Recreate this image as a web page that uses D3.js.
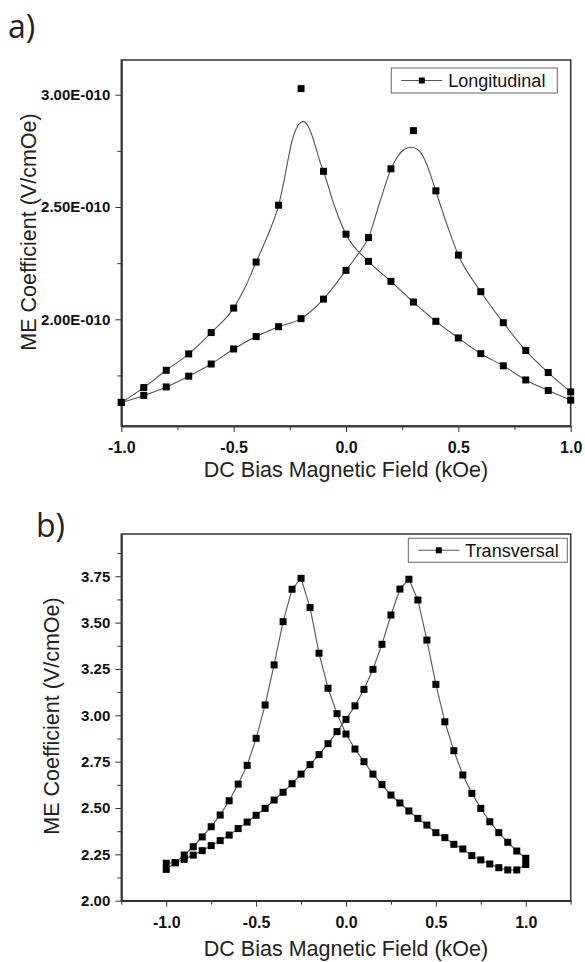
<!DOCTYPE html>
<html>
<head>
<meta charset="utf-8">
<script src="https://cdn.jsdelivr.net/npm/d3@7"></script>
<style>
  body { margin: 0; background: #fff; }
  svg { display: block; font-family: "Liberation Sans", Arial, sans-serif; }
  .tick text { font-weight: bold; fill: #111; }
  .axis path, .axis line { stroke: #333; }
</style>
</head>
<body>
<div id="chart"></div>
<script>
// a) Longitudinal, ME coefficient in units of 1E-010 V/cmOe
const fieldLong = [-1.0, -0.9, -0.8, -0.7, -0.6, -0.5, -0.4, -0.3, -0.2, -0.1, 0.0, 0.1, 0.2, 0.3, 0.4, 0.5, 0.6, 0.7, 0.8, 0.9, 1.0]
const longPeakLeft = [1.630, 1.696, 1.773, 1.846, 1.941, 2.050, 2.255, 2.508, 3.027, 2.659, 2.379, 2.258, 2.169, 2.077, 1.991, 1.917, 1.847, 1.793, 1.730, 1.683, 1.640]
const longPeakRight = [1.630, 1.661, 1.699, 1.747, 1.801, 1.868, 1.923, 1.967, 2.003, 2.090, 2.218, 2.364, 2.670, 2.840, 2.572, 2.286, 2.123, 1.985, 1.861, 1.763, 1.677]

// fitted curves
const fitLeftX = [-1.0, -0.9, -0.8, -0.7, -0.6, -0.5, -0.45, -0.4, -0.35, -0.3, -0.28, -0.26, -0.24, -0.22, -0.2, -0.19, -0.17, -0.15, -0.13, -0.115, -0.1, -0.05, 0.0, 0.1, 0.2, 0.3, 0.4, 0.5, 0.6, 0.7, 0.8, 0.9, 1.0]
const fitLeftY = [1.630, 1.696, 1.773, 1.846, 1.941, 2.050, 2.140, 2.255, 2.370, 2.508, 2.595, 2.700, 2.795, 2.852, 2.877, 2.880, 2.862, 2.815, 2.750, 2.700, 2.659, 2.500, 2.379, 2.258, 2.169, 2.077, 1.991, 1.917, 1.847, 1.793, 1.730, 1.683, 1.640]
const fitRightX = [-1.0, -0.9, -0.8, -0.7, -0.6, -0.5, -0.4, -0.3, -0.2, -0.1, 0.0, 0.05, 0.1, 0.15, 0.2, 0.23, 0.26, 0.29, 0.32, 0.35, 0.38, 0.4, 0.45, 0.5, 0.6, 0.7, 0.8, 0.9, 1.0]
const fitRightY = [1.630, 1.661, 1.699, 1.747, 1.801, 1.868, 1.923, 1.967, 2.003, 2.090, 2.218, 2.285, 2.364, 2.520, 2.668, 2.725, 2.757, 2.766, 2.755, 2.712, 2.632, 2.570, 2.420, 2.286, 2.123, 1.985, 1.861, 1.763, 1.677]

// b) Transversal, ME coefficient in V/cmOe
const fieldTrans = [-1.0, -0.95, -0.9, -0.85, -0.8, -0.75, -0.7, -0.65, -0.6, -0.55, -0.5, -0.45, -0.4, -0.35, -0.3, -0.25, -0.2, -0.15, -0.1, -0.05, 0.0,
                    0.05, 0.1, 0.15, 0.2, 0.25, 0.3, 0.35, 0.4, 0.45, 0.5, 0.55, 0.6, 0.65, 0.7, 0.75, 0.8, 0.85, 0.9, 0.95, 1.0]
const transPeakLeft = [2.202, 2.205, 2.246, 2.291, 2.344, 2.399, 2.462, 2.539, 2.629, 2.730, 2.876, 3.056, 3.272, 3.505, 3.680, 3.739, 3.581, 3.335, 3.146, 3.009, 2.899,
                       2.818, 2.750, 2.683, 2.626, 2.570, 2.527, 2.484, 2.444, 2.408, 2.367, 2.340, 2.304, 2.279, 2.243, 2.220, 2.198, 2.178, 2.166, 2.166, 2.195]
const transPeakRight = [2.169, 2.205, 2.223, 2.246, 2.270, 2.297, 2.324, 2.354, 2.389, 2.424, 2.461, 2.498, 2.543, 2.585, 2.631, 2.683, 2.734, 2.788, 2.847, 2.912, 2.978,
                        3.051, 3.140, 3.248, 3.383, 3.541, 3.681, 3.734, 3.622, 3.406, 3.167, 2.965, 2.809, 2.678, 2.579, 2.498, 2.426, 2.367, 2.315, 2.268, 2.229]

const xTicksLabeled = [-1.0, -0.5, 0.0, 0.5, 1.0]
const xTicksMinorA = [-0.75, -0.25, 0.25, 0.75]
const xTicksMinorB = [-1.25, -0.75, -0.25, 0.25, 0.75, 1.25]
const yTicksA = [2.0, 2.5, 3.0]
const yTicksMinorA = [1.75, 2.25, 2.75]
const yTicksB = [2.00, 2.25, 2.50, 2.75, 3.00, 3.25, 3.50, 3.75]
const yTicksMinorB = [2.125, 2.375, 2.625, 2.875, 3.125, 3.375, 3.625, 3.875]

const svg = d3.select('#chart').append('svg')
    .attr('width', 585)
    .attr('height', 962)

const lineColor = '#555'
const markerSize = 7

const drawPanel = ({top, height, xDomain, yDomain, yTicks, yMinor, xMinor, yFormat, letter, letterPos, titleX, titleY, xTitleY, legend, legendBox, series, fits}) => {
    const left = 121.3
    const width = 449.4
    const g = svg.append('g').attr('transform', `translate(${left}, ${top})`)

    const x = d3.scaleLinear().domain(xDomain).range([0, width])
    const y = d3.scaleLinear().domain(yDomain).range([height, 0])

    // minor ticks
    g.append('g').attr('class', 'axis')
        .attr('transform', `translate(0, ${height})`)
        .call(d3.axisBottom(x).tickValues(xMinor).tickFormat('').tickSizeInner(4).tickSizeOuter(0))
    g.append('g').attr('class', 'axis')
        .call(d3.axisLeft(y).tickValues(yMinor).tickFormat('').tickSizeInner(4).tickSizeOuter(0))

    const xAxis = g.append('g').attr('class', 'axis')
        .attr('transform', `translate(0, ${height})`)
        .call(d3.axisBottom(x).tickValues(xTicksLabeled).tickFormat(d => d.toFixed(1))
            .tickSizeInner(6).tickSizeOuter(0).tickPadding(10))
    xAxis.selectAll('text').style('font-size', '16px')

    const yAxis = g.append('g').attr('class', 'axis')
        .call(d3.axisLeft(y).tickValues(yTicks).tickFormat(yFormat)
            .tickSizeInner(6).tickSizeOuter(0).tickPadding(5))
    yAxis.selectAll('text').style('font-size', '15px')
    g.selectAll('.axis path').attr('stroke-width', 1.5)

    // frame
    g.append('rect')
        .attr('width', width).attr('height', height)
        .attr('fill', 'none').attr('stroke', '#333').attr('stroke-width', 1.5)

    const line = d3.line().x(d => x(d[0])).y(d => y(d[1]))

    fits.forEach(f => {
        g.append('path')
            .datum(f.xs.map((v, i) => [v, f.ys[i]]))
            .attr('fill', 'none')
            .attr('stroke', lineColor)
            .attr('stroke-width', 1.1)
            .attr('d', line.curve(f.curve))
    })

    series.forEach(s => {
        g.selectAll(null).data(s.xs.map((v, i) => [v, s.ys[i]]))
            .enter()
                .append('rect')
                    .attr('x', d => x(d[0]) - markerSize / 2)
                    .attr('y', d => y(d[1]) - markerSize / 2)
                    .attr('width', markerSize)
                    .attr('height', markerSize)
                    .attr('fill', '#000')
    })

    // legend
    const lg = g.append('g').attr('transform', `translate(${legendBox.x}, ${legendBox.y})`)
    lg.append('rect')
        .attr('width', legendBox.w).attr('height', legendBox.h)
        .attr('fill', '#fff').attr('stroke', '#666').attr('stroke-width', 1)
    lg.append('line')
        .attr('x1', 10).attr('x2', 51)
        .attr('y1', legendBox.h / 2).attr('y2', legendBox.h / 2)
        .attr('stroke', lineColor).attr('stroke-width', 1.1)
    lg.append('rect')
        .attr('x', 30.5 - 3).attr('y', legendBox.h / 2 - 3)
        .attr('width', 6).attr('height', 6).attr('fill', '#000')
    lg.append('text')
        .attr('x', 57).attr('y', legendBox.h / 2 + 6.5)
        .style('font-size', '18px')
        .attr('fill', '#111')
        .text(legend)

    // titles
    svg.append('text')
        .attr('transform', `translate(${titleX}, ${titleY}) rotate(-90)`)
        .attr('text-anchor', 'middle')
        .style('font-size', '21.5px')
        .attr('fill', '#222')
        .text('ME Coefficient (V/cmOe)')

    svg.append('text')
        .attr('x', left + width / 2)
        .attr('y', xTitleY)
        .attr('text-anchor', 'middle')
        .style('font-size', '21.5px')
        .attr('fill', '#222')
        .text('DC Bias Magnetic Field (kOe)')

    svg.append('text')
        .attr('x', letterPos[0]).attr('y', letterPos[1])
        .style('font-family', '"Open Sans", "Noto Sans", sans-serif')
        .style('font-size', '32px')
        .attr('fill', '#222')
        .text(letter)
}

drawPanel({
    top: 60,
    height: 366,
    xDomain: [-1, 1],
    yDomain: [1.525, 3.1545],
    yTicks: yTicksA,
    yMinor: yTicksMinorA,
    xMinor: xTicksMinorA,
    yFormat: d => d.toFixed(2) + 'E-010',
    letter: 'a)',
    letterPos: [8, 38],
    titleX: 36,
    titleY: 232,
    xTitleY: 477,
    legend: 'Longitudinal',
    legendBox: {x: 270, y: 8, w: 166, h: 25},
    series: [
        {xs: fieldLong, ys: longPeakLeft},
        {xs: fieldLong, ys: longPeakRight}
    ],
    fits: [
        {xs: fitLeftX, ys: fitLeftY, curve: d3.curveMonotoneX},
        {xs: fitRightX, ys: fitRightY, curve: d3.curveMonotoneX}
    ]
})

drawPanel({
    top: 534,
    height: 366.7,
    xDomain: [-1.25, 1.25],
    yDomain: [2.0, 3.978],
    yTicks: yTicksB,
    yMinor: yTicksMinorB,
    xMinor: xTicksMinorB,
    yFormat: d => d.toFixed(2),
    letter: 'b)',
    letterPos: [36, 537],
    titleX: 59,
    titleY: 716,
    xTitleY: 956,
    legend: 'Transversal',
    legendBox: {x: 287, y: 4.3, w: 159, h: 24},
    series: [
        {xs: fieldTrans, ys: transPeakLeft},
        {xs: fieldTrans, ys: transPeakRight}
    ],
    fits: [
        {xs: fieldTrans, ys: transPeakLeft, curve: d3.curveLinear},
        {xs: fieldTrans, ys: transPeakRight, curve: d3.curveLinear}
    ]
})
</script>
</body>
</html>
